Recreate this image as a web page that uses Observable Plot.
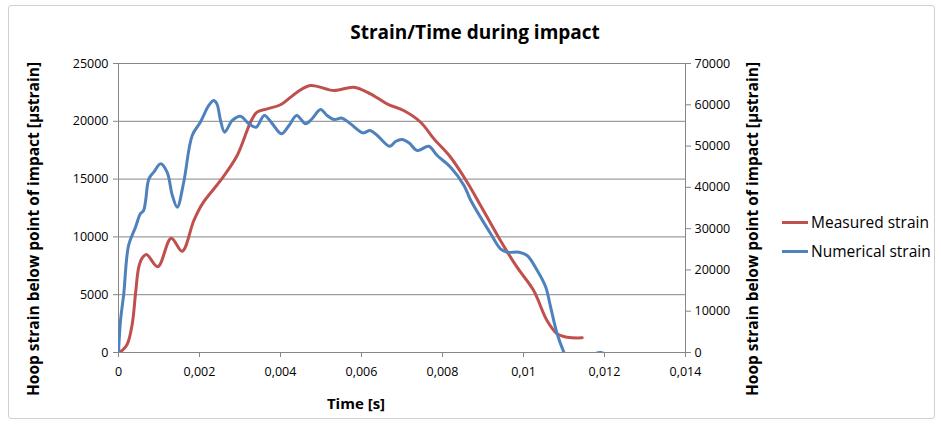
<!DOCTYPE html>
<html>
<head>
<meta charset="utf-8">
<script src="https://cdn.jsdelivr.net/npm/d3@7"></script>
<script src="https://cdn.jsdelivr.net/npm/@observablehq/plot@0.6"></script>
<style>
  body { margin: 0; background: #fff; }
  #wrap { position: relative; width: 941px; height: 425px; overflow: hidden; font-family: "Open Sans", sans-serif; }
  #frame { position: absolute; left: 8px; top: 5px; width: 925px; height: 412px; border: 1px solid #d0d0d0; border-radius: 3px; }
  #chart { position: absolute; left: 0; top: 0; }
  .title { position: absolute; left: 0; width: 950px; top: 19px; text-align: center; font-weight: bold; font-size: 19px; color: #000; }
  .ytitle { position: absolute; font-weight: bold; font-size: 15.5px; white-space: nowrap; color: #000; transform: translate(-50%, -50%) rotate(-90deg); }
  .xtitle { position: absolute; font-weight: bold; font-size: 15px; color: #000; transform: translate(-50%, -50%); white-space: nowrap; }
  .leg { position: absolute; font-size: 15.5px; color: #000; white-space: nowrap; }
  .leg span.sw { display: inline-block; width: 26px; height: 3px; vertical-align: middle; margin-right: 3px; position: relative; top: -1px; }
</style>
</head>
<body>
<div id="wrap">
  <div id="frame"></div>
  <div id="chart"></div>
  <div class="title">Strain/Time during impact</div>
  <div class="ytitle" style="left:33px; top:229px;">Hoop strain below point of impact [µstrain]</div>
  <div class="ytitle" style="left:752px; top:229px;">Hoop strain below point of impact [µstrain]</div>
  <div class="xtitle" style="left:356px; top:403px;">Time [s]</div>
  <div class="leg" style="left:782px; top:211px;"><span class="sw" style="background:#C0504D"></span>Measured strain</div>
  <div class="leg" style="left:782px; top:240px;"><span class="sw" style="background:#4F81BD"></span>Numerical strain</div>
</div>
<script>
// Time [s]
const measuredT = [0, 0.0001, 0.00022, 0.00034, 0.00042, 0.0005, 0.00058, 0.00069, 0.00097, 0.0013, 0.00157, 0.00186, 0.00207, 0.00252, 0.00293, 0.00326, 0.00342, 0.00367, 0.004, 0.00441, 0.00474, 0.00532, 0.00581, 0.00622, 0.00663, 0.00704, 0.00746, 0.00779, 0.0082, 0.00861, 0.00894, 0.00943, 0.00984, 0.01025, 0.01058, 0.01083, 0.01108, 0.01145];
// Measured strain (left axis, µstrain)
const measuredV = [0, 200, 750, 2480, 5080, 7380, 8150, 8480, 7420, 9890, 8760, 11420, 12860, 14880, 17040, 19920, 20790, 21080, 21430, 22520, 23100, 22660, 22950, 22380, 21510, 20930, 19920, 18480, 16890, 14730, 12720, 9690, 7380, 5360, 2770, 1620, 1320, 1270];

const numericalT = [0, 0.00005, 0.00013, 0.00025, 0.00042, 0.00054, 0.00062, 0.00067, 0.00075, 0.00087, 0.00104, 0.0012, 0.00133, 0.00145, 0.00161, 0.00182, 0.00202, 0.00223, 0.00235, 0.00243, 0.00252, 0.00262, 0.00281, 0.00301, 0.00322, 0.0034, 0.0036, 0.0038, 0.00402, 0.00421, 0.0044, 0.00462, 0.00478, 0.00499, 0.00515, 0.00532, 0.00552, 0.00573, 0.00604, 0.00621, 0.00639, 0.0067, 0.00684, 0.007, 0.00717, 0.00738, 0.00766, 0.00787, 0.0082, 0.00853, 0.0087, 0.00919, 0.00943, 0.0096, 0.00989, 0.01009, 0.01034, 0.01055, 0.01067, 0.01083, 0.011, 0.0112, 0.0115, 0.01175, 0.0119, 0.012];
// Numerical strain (right axis, µstrain)
const numericalV = [0, 7760, 14220, 26000, 30350, 33600, 34380, 36820, 42060, 43680, 45700, 43680, 38020, 35200, 41240, 52560, 55780, 59840, 61040, 60230, 56200, 53370, 56200, 57230, 55380, 54570, 57400, 55380, 52980, 54990, 57400, 55380, 56620, 58860, 57400, 56420, 56760, 55380, 53200, 53760, 52560, 49950, 51100, 51580, 50790, 48920, 49950, 47710, 44880, 40460, 36820, 28760, 25120, 24300, 24300, 23490, 19850, 15820, 10980, 4540, 0, -4000, -6000, -500, 0, -300];

const xTicks = [0, 0.002, 0.004, 0.006, 0.008, 0.01, 0.012, 0.014];
const leftTicks = [0, 5000, 10000, 15000, 20000, 25000];
const rightTicks = [0, 10000, 20000, 30000, 40000, 50000, 60000, 70000];

const k = 25000 / 70000; // right axis -> left axis
const measured = measuredT.map((t, i) => ({t, v: measuredV[i]}));
const numerical = numericalT.map((t, i) => ({t, v: numericalV[i] * k}));

const grey = "#868686";
const chart = Plot.plot({
  width: 941, height: 425,
  marginLeft: 118, marginRight: 256, marginTop: 63, marginBottom: 73,
  x: {domain: [0, 0.014]},
  y: {domain: [0, 25000]},
  style: {fontFamily: "Open Sans, sans-serif", fontSize: "12.5px", color: "#000", background: "transparent", overflow: "visible"},
  marks: [
    Plot.gridY(leftTicks, {stroke: grey, strokeOpacity: 1, strokeWidth: 1}),
    Plot.ruleX([0, 0.014], {stroke: grey, strokeWidth: 1}),
    Plot.axisY(leftTicks, {anchor: "left", tickSize: 5, tickPadding: 5, stroke: grey, label: null, tickFormat: d => String(d), fill: "#000"}),
    Plot.axisY(rightTicks.map(v => v * k), {anchor: "right", tickSize: 5, tickPadding: 4, stroke: grey, label: null, tickFormat: d => String(Math.round(d / k)), fill: "#000"}),
    Plot.axisX(xTicks, {tickSize: 5, tickPadding: 10, stroke: grey, label: null, fill: "#000", tickFormat: d => d === 0 ? "0" : String(d).replace(".", ",")}),
    Plot.line(measured, {x: "t", y: "v", stroke: "#C0504D", strokeWidth: 3, curve: "catmull-rom", clip: true}),
    Plot.line(numerical, {x: "t", y: "v", stroke: "#4F81BD", strokeWidth: 3, curve: "catmull-rom", clip: true})
  ]
});
document.getElementById("chart").appendChild(chart);
</script>
</body>
</html>
